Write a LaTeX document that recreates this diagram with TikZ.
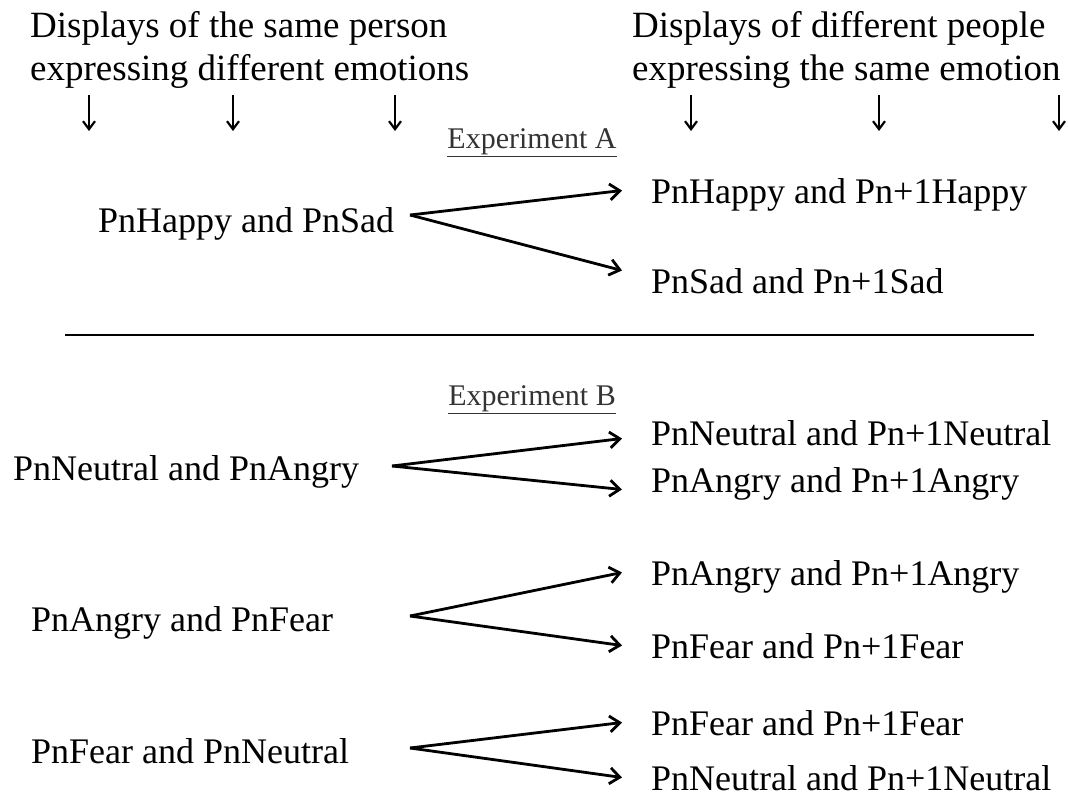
\documentclass[tikz,border=0pt]{standalone}
\usepackage{fontspec}
\setmainfont{Liberation Serif}
\usetikzlibrary{arrows.meta,calc}

\tikzset{
  heading/.style={anchor=base west, inner sep=0pt, align=left, font=\fontsize{37}{43}\selectfont},
  item/.style={inner sep=0pt, text height=27pt, text depth=2pt, font=\fontsize{36}{40}\selectfont},
  pairL/.style={item, anchor=base west},
  pairR/.style={item, anchor=base west, inner xsep=29pt},
  explabel/.style={anchor=base, inner sep=0pt, text=black!80, font=\fontsize{30}{34}\selectfont},
  fork/.style={line width=2.8pt, -{Straight Barb[length=10pt,width=16pt]}},
  down/.style={line width=2.2pt, -{Straight Barb[length=8pt,width=12pt]}},
  rule/.style={line width=2.8pt}
}

\begin{document}
\begin{tikzpicture}[x=1pt, y=-1pt]
        \useasboundingbox (0,0) rectangle (1068,796);

        % Headings (base = last line)
        \node[heading] (same) at (30,80) {Displays of the same person\\expressing different emotions};
        \node[heading] (diff) at (632,80) {Displays of different people\\expressing the same emotion};
        \foreach \x in {89,233,395,691,879,1059} {
            \draw[down] (\x,95) -- (\x,131);
        }

        % Experiment A
        \node[explabel] (expA) at (532,148) {\underline{Experiment A}};
        \node[pairL] (hs) at (98,232) {PnHappy and PnSad};
        \node[pairR] (hh) at (622,203) {PnHappy and Pn+1Happy};
        \node[pairR] (ss) at (622,293) {PnSad and Pn+1Sad};
        \coordinate (hsF) at (410,215);
        \draw[fork] (hsF) -- (hh.west);
        \draw[fork] (hsF) -- ([yshift=10pt]ss.west);

        % Separator
        \draw[rule] (65,335) -- (1034,335);

        % Experiment B
        \node[explabel] (expB) at (532,405) {\underline{Experiment B}};
        \node[pairL] (na) at (13,480) {PnNeutral and PnAngry};
        \node[pairR] (nn1) at (622,445) {PnNeutral and Pn+1Neutral};
        \node[pairR] (aa1) at (622,492) {PnAngry and Pn+1Angry};
        \coordinate (naF) at (392,466);
        \draw[fork] (naF) -- ([yshift=-6pt]nn1.west);
        \draw[fork] (naF) -- ([yshift=-10pt]aa1.west);

        \node[pairL] (af) at (31,631) {PnAngry and PnFear};
        \node[pairR] (aa2) at (622,585) {PnAngry and Pn+1Angry};
        \node[pairR] (ff1) at (622,658) {PnFear and Pn+1Fear};
        \coordinate (afF) at (410,616);
        \draw[fork] (afF) -- (aa2.west);
        \draw[fork] (afF) -- (ff1.west);

        \node[pairL] (fn) at (31,763) {PnFear and PnNeutral};
        \node[pairR] (ff2) at (622,735) {PnFear and Pn+1Fear};
        \node[pairR] (nn2) at (622,790) {PnNeutral and Pn+1Neutral};
        \coordinate (fnF) at (410,748);
        \draw[fork] (fnF) -- (ff2.west);
        \draw[fork] (fnF) -- (nn2.west);
\end{tikzpicture}
\end{document}
